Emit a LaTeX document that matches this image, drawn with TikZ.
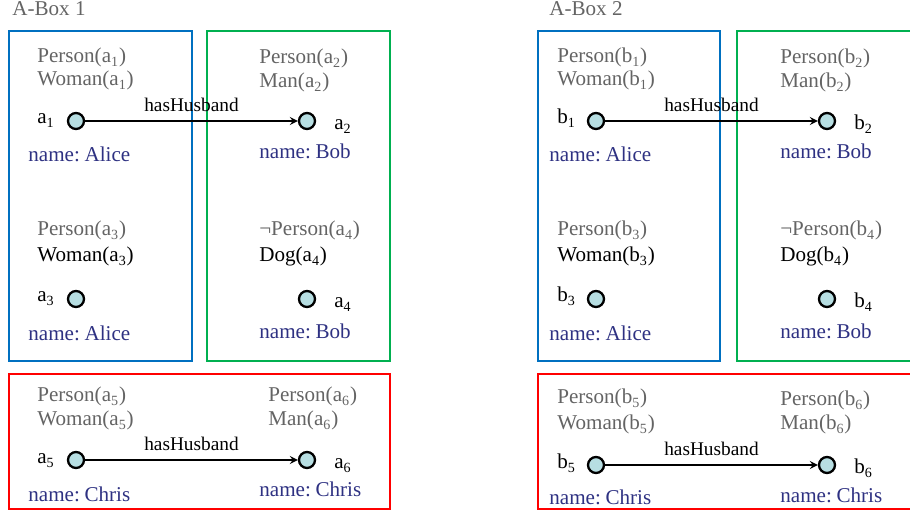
\documentclass[tikz,border=0pt]{standalone}
\usepackage{fontspec}
\setmainfont{Liberation Serif}
\definecolor{boxblue}{RGB}{0,112,192}
\definecolor{boxgreen}{RGB}{0,176,80}
\definecolor{boxred}{RGB}{255,0,0}
\definecolor{factgray}{RGB}{100,100,100}
\definecolor{namenavy}{RGB}{46,49,130}
\definecolor{indfill}{RGB}{183,222,226}
\newcommand{\namefont}{\fontsize{12}{14}\selectfont\spaceskip=0.14em\relax}
\tikzset{>=stealth}
\tikzset{
  txt/.style={anchor=base west, inner sep=0pt, font=\fontsize{12}{14}\selectfont},
  fact/.style={txt, text=factgray},
  attr/.style={txt, text=namenavy, font=\namefont},
  ind/.style={circle, draw, line width=1.3pt, fill=indfill, minimum size=0.32cm, inner sep=0pt},
  abox/.style={line width=1pt},
  role/.style={above=5pt, inner sep=0pt, font=\fontsize{11}{13}\selectfont},
  hasedge/.style={->, line width=1pt}
}

\begin{document}
\begin{tikzpicture}[x=0.02cm, y=-0.02cm]
    \clip (0,0) rectangle (910,516);
    % A-Box 1
    \node[fact] (t1) at (12,16) {A-Box 1};
    \draw[abox, boxblue] (9,31) rectangle (192,361);
    \draw[abox, boxgreen] (207,31) rectangle (390,361);
    \draw[abox, boxred] (9,374) rectangle (390,509);
    \node[fact] (pa1) at (37,63) {Person(a\textsubscript{1})};
    \node[fact] (wa1) at (37,86) {Woman(a\textsubscript{1})};
    \node[txt] (la1) at (37,124) {a\textsubscript{1}};
    \node[ind] (a1) at (76,121) {};
    \node[attr] (na1) at (28,162) {name: Alice};
    \node[fact] (pa2) at (259,64) {Person(a\textsubscript{2})};
    \node[fact] (ma2) at (259,88) {Man(a\textsubscript{2})};
    \node[ind] (a2) at (307,121) {};
    \node[txt] (la2) at (334,130) {a\textsubscript{2}};
    \node[attr] (na2) at (259,159) {name: Bob};
    \draw[hasedge] (a1) -- node[role] (ha1) {hasHusband} (a2);
    \node[fact] (pa3) at (37,236) {Person(a\textsubscript{3})};
    \node[txt] (wa3) at (37,262) {Woman(a\textsubscript{3})};
    \node[txt] (la3) at (37,302) {a\textsubscript{3}};
    \node[ind] (a3) at (76,299) {};
    \node[attr] (na3) at (28,341) {name: Alice};
    \node[fact] (pa4) at (259,236) {¬Person(a\textsubscript{4})};
    \node[txt] (da4) at (259,262) {Dog(a\textsubscript{4})};
    \node[ind] (a4) at (307,299) {};
    \node[txt] (la4) at (334,308) {a\textsubscript{4}};
    \node[attr] (na4) at (259,339) {name: Bob};
    \node[fact] (pa5) at (37,402) {Person(a\textsubscript{5})};
    \node[fact] (wa5) at (37,426) {Woman(a\textsubscript{5})};
    \node[txt] (la5) at (37,464) {a\textsubscript{5}};
    \node[ind] (a5) at (76,460) {};
    \node[attr] (na5) at (28,502) {name: Chris};
    \node[fact] (pa6) at (268,402) {Person(a\textsubscript{6})};
    \node[fact] (ma6) at (268,426) {Man(a\textsubscript{6})};
    \node[ind] (a6) at (307,460) {};
    \node[txt] (la6) at (334,469) {a\textsubscript{6}};
    \node[attr] (na6) at (259,497) {name: Chris};
    \draw[hasedge] (a5) -- node[role] (ha5) {hasHusband} (a6);
    % A-Box 2
    \node[fact] (t2) at (549,16) {A-Box 2};
    \draw[abox, boxblue] (538,31) rectangle (720,361);
    \draw[abox, boxgreen] (737,31) rectangle (930,361);
    \draw[abox, boxred] (538,374) rectangle (930,509);
    \node[fact] (pb1) at (557,63) {Person(b\textsubscript{1})};
    \node[fact] (wb1) at (557,86) {Woman(b\textsubscript{1})};
    \node[txt] (lb1) at (557,124) {b\textsubscript{1}};
    \node[ind] (b1) at (596,121) {};
    \node[attr] (nb1) at (549,162) {name: Alice};
    \node[fact] (pb2) at (780,64) {Person(b\textsubscript{2})};
    \node[fact] (mb2) at (780,88) {Man(b\textsubscript{2})};
    \node[ind] (b2) at (827,121) {};
    \node[txt] (lb2) at (854,130) {b\textsubscript{2}};
    \node[attr] (nb2) at (780,159) {name: Bob};
    \draw[hasedge] (b1) -- node[role] (hb1) {hasHusband} (b2);
    \node[fact] (pb3) at (557,236) {Person(b\textsubscript{3})};
    \node[txt] (wb3) at (557,262) {Woman(b\textsubscript{3})};
    \node[txt] (lb3) at (557,302) {b\textsubscript{3}};
    \node[ind] (b3) at (596,299) {};
    \node[attr] (nb3) at (549,341) {name: Alice};
    \node[fact] (pb4) at (780,236) {¬Person(b\textsubscript{4})};
    \node[txt] (db4) at (780,262) {Dog(b\textsubscript{4})};
    \node[ind] (b4) at (827,299) {};
    \node[txt] (lb4) at (854,308) {b\textsubscript{4}};
    \node[attr] (nb4) at (780,339) {name: Bob};
    \node[fact] (pb5) at (557,404) {Person(b\textsubscript{5})};
    \node[fact] (wb5) at (557,430) {Woman(b\textsubscript{5})};
    \node[txt] (lb5) at (557,469) {b\textsubscript{5}};
    \node[ind] (b5) at (596,465) {};
    \node[attr] (nb5) at (549,505) {name: Chris};
    \node[fact] (pb6) at (780,406) {Person(b\textsubscript{6})};
    \node[fact] (mb6) at (780,430) {Man(b\textsubscript{6})};
    \node[ind] (b6) at (827,465) {};
    \node[txt] (lb6) at (854,474) {b\textsubscript{6}};
    \node[attr] (nb6) at (780,503) {name: Chris};
    \draw[hasedge] (b5) -- node[role] (hb5) {hasHusband} (b6);
\end{tikzpicture}
\end{document}
